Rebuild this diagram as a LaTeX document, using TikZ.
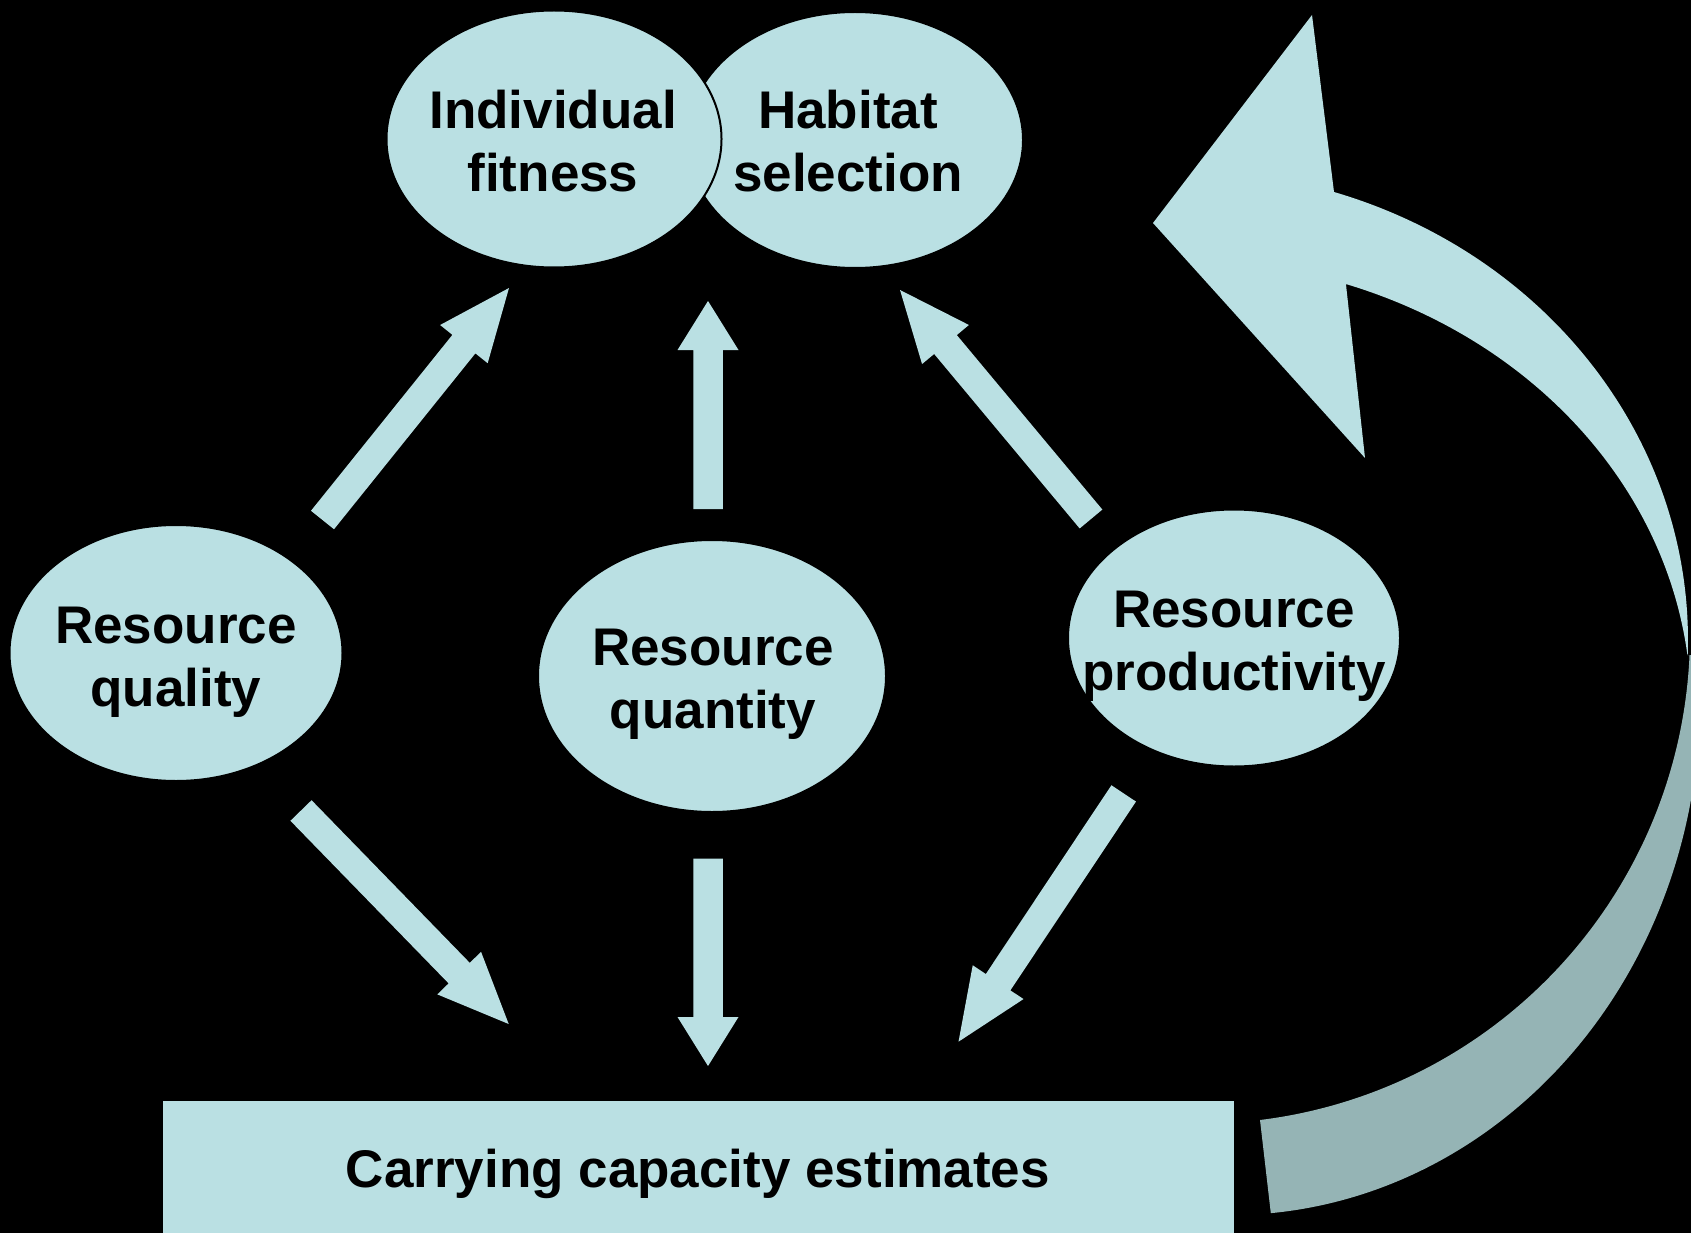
\documentclass[tikz,border=0pt]{standalone}
\usepackage{fontspec}
\setmainfont{Liberation Sans}
\usetikzlibrary{shapes.geometric,calc}
\definecolor{lightb}{RGB}{186,224,227}
\definecolor{greyb}{RGB}{149,180,181}
\tikzset{
  bubble/.style={ellipse, draw=black, line width=2pt, fill=lightb, inner sep=0pt},
  lbl/.style={align=center, font=\fontsize{53}{63}\selectfont\bfseries, inner sep=0pt, anchor=base, text=black},
  boxed/.style={rectangle, draw=black, line width=1pt, fill=lightb, inner sep=0pt},
  arrfill/.style={fill=lightb},
}
\newcommand{\blockarr}[3]{%
  \coordinate (hb) at ($(#2)!#3!(#1)$);
  \fill[arrfill] ($(#1)!14.75pt!90:(#2)$) -- ($(hb)!14.75pt!-90:(#1)$) -- ($(hb)!30.5pt!-90:(#1)$) -- (#2) -- ($(hb)!30.5pt!90:(#1)$) -- ($(hb)!14.75pt!90:(#1)$) -- ($(#1)!14.75pt!-90:(#2)$) -- cycle;
}
\begin{document}
\begin{tikzpicture}[x=1pt,y=-1pt]
\useasboundingbox (0,0) rectangle (1691,1233);
\fill[black] (0,0) rectangle (1691,1233);
\clip (0,0) rectangle (1691,1233);

% curved feedback arrow: front (light) band with head
\coordinate (ctip) at (1312,15);
\coordinate (cpoint) at (1153,223);
\coordinate (cbarb) at (1365,458);
\fill[lightb] (ctip) -- (1334,192)
  arc[start angle=-72.43, end angle=1.83, x radius=507, y radius=470]
  -- (1687.4,655)
  arc[start angle=-6.79, end angle=-71.13, x radius=510, y radius=448]
  -- (cbarb) -- (cpoint) -- cycle;
% back (darker) band
\fill[greyb] (1687.7,655) -- (1698,655)
  arc[start angle=-5.05, end angle=85, x radius=470, y radius=514.8]
  -- (1260,1120)
  arc[start angle=82.97, end angle=2.57, x radius=490, y radius=490.5]
  -- cycle;

% ellipses
\node[bubble, minimum width=336pt, minimum height=256pt] (hs) at (855,140) {};
\node[bubble, minimum width=335pt, minimum height=257pt] (if) at (554,139) {};
\node[bubble, minimum width=333pt, minimum height=256pt] (rql) at (176,653) {};
\node[bubble, minimum width=348pt, minimum height=272pt] (rqn) at (712,676) {};
\node[bubble, minimum width=332pt, minimum height=257pt] (rp) at (1234,638) {};

\node[lbl] (ift) at (553,192) {Individual\\fitness};
\node[lbl] (hst) at (848,192) {Habitat\\selection};
\node[lbl] (rqlt) at (176,706) {Resource\\quality};
\node[lbl] (rqnt) at (713,728) {Resource\\quantity};
\node[lbl] (rpt) at (1234,690) {Resource\\productivity};

% carrying capacity box
\node[boxed, minimum width=1072pt, minimum height=150pt, anchor=north west] (cc) at (162,1100) {};
\node[lbl] (cct) at (698,1187) {Carrying capacity estimates};

% block arrows
\coordinate (a1t) at (322.5,520);  \coordinate (a1h) at (509,288);
\coordinate (a2t) at (708,509);    \coordinate (a2h) at (708,301);
\coordinate (a3t) at (1091,519);   \coordinate (a3h) at (900,290);
\coordinate (a4t) at (301,810.5);  \coordinate (a4h) at (508.7,1024);
\coordinate (a5t) at (708,858.7);  \coordinate (a5h) at (708,1066);
\coordinate (a6t) at (1123.7,793.4); \coordinate (a6h) at (958.5,1041.7);
\blockarr{a1t}{a1h}{72pt}
\blockarr{a2t}{a2h}{49pt}
\blockarr{a3t}{a3h}{71pt}
\blockarr{a4t}{a4h}{71pt}
\blockarr{a5t}{a5h}{49pt}
\blockarr{a6t}{a6h}{71.5pt}
\end{tikzpicture}
\end{document}
